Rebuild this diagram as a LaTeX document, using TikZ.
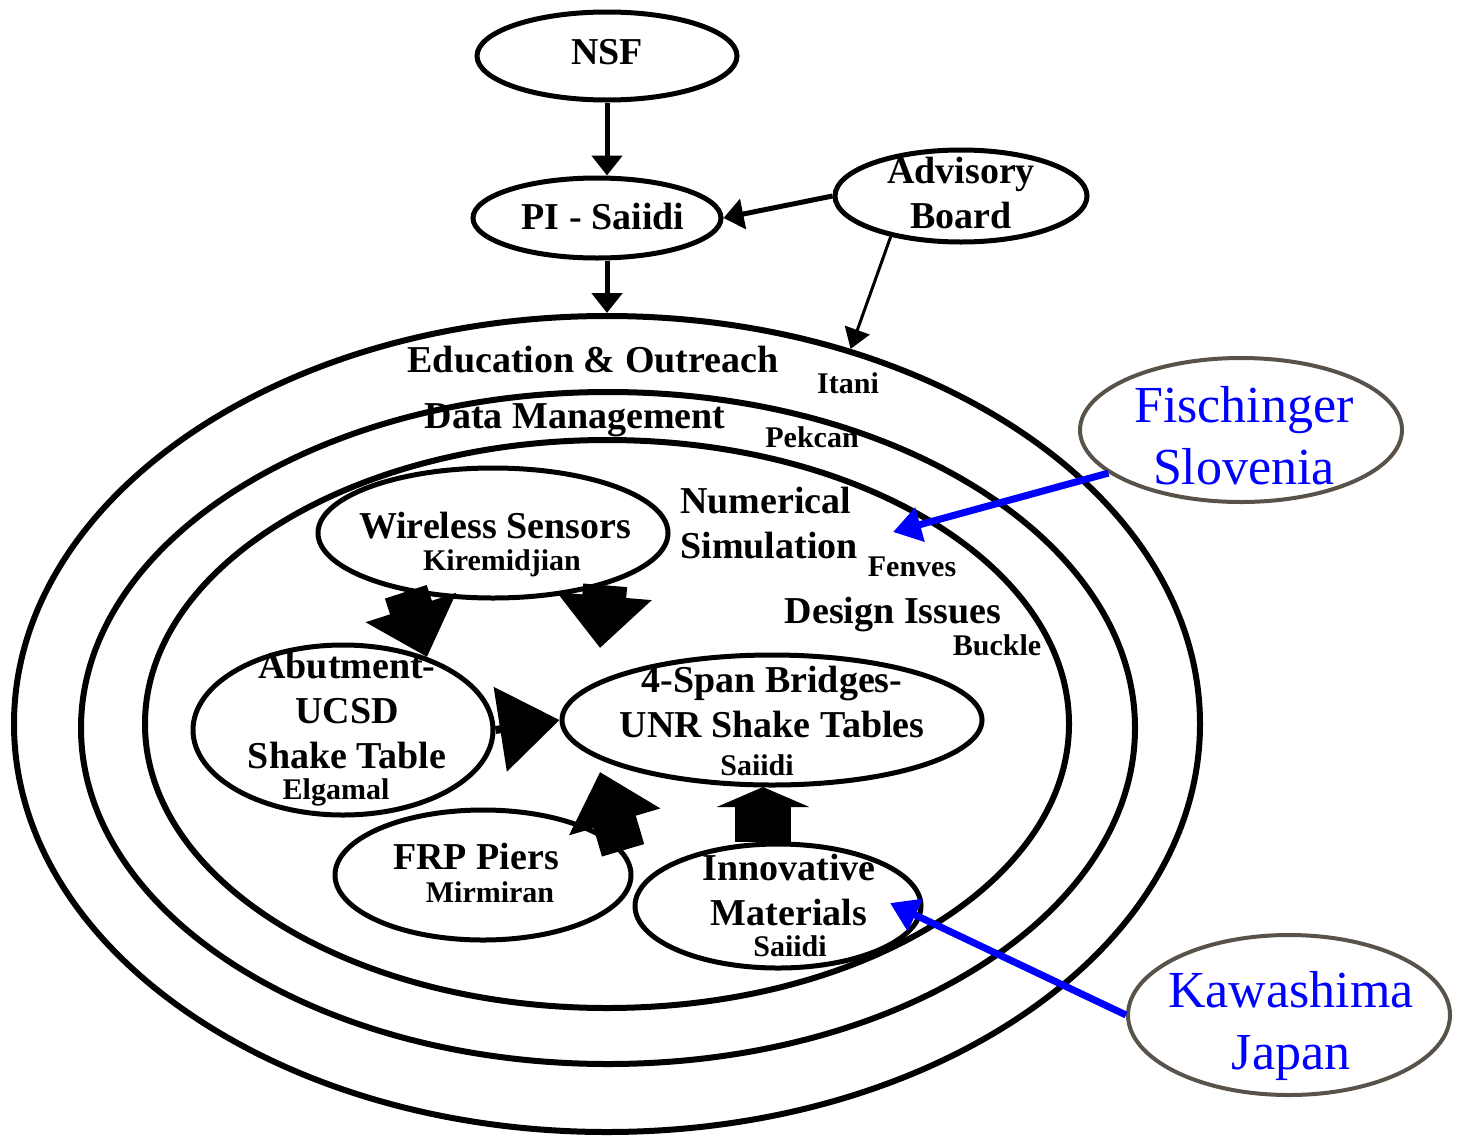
\documentclass[tikz,border=0pt]{standalone}
\usepackage{fontspec}
\setmainfont{Liberation Serif}
\usetikzlibrary{shapes.geometric,arrows.meta}
\definecolor{partnergray}{RGB}{89,82,74}

\tikzset{
  ring/.style={ellipse,draw,line width=3pt,inner sep=0pt},
  topic/.style={ellipse,draw,line width=2.5pt,inner sep=0pt},
  partner/.style={ellipse,draw=partnergray,line width=2pt,inner sep=0pt},
  lbl/.style={inner sep=0pt,align=center,font=\bfseries\fontsize{19}{22.5}\selectfont},
  who/.style={inner sep=0pt,font=\bfseries\fontsize{15}{15}\selectfont},
  bluelbl/.style={inner sep=0pt,align=center,text=blue,font=\fontsize{26}{31}\selectfont},
  thinarrow/.style={line width=2.5pt,-{Triangle[length=10pt,width=15pt]}},
  bigarrow/.style={line width=22pt,-{Triangle[length=26pt,width=46pt]}},
  stubarrow/.style={line width=28pt,-{Triangle[length=10pt,width=46pt]}},
  bluearrow/.style={draw=blue,line width=3.5pt,-{Triangle[length=14pt,width=17pt]}}
}

\begin{document}
\begin{tikzpicture}[x=0.5pt,y=0.5pt,yscale=-1,xscale=1]
\useasboundingbox (0,0) rectangle (1460,1135);

% top of the chart
\node [topic, minimum width=130pt, minimum height=44pt] (nsf) at (607,56) {};
\node [topic, minimum width=124pt, minimum height=40pt] (pi) at (597,218) {};
\node [topic, minimum width=126pt, minimum height=46pt] (adv) at (961,196) {};

% the three rings
\node [ring, minimum width=593pt, minimum height=408pt] (eo) at (607,724) {};
\node [ring, minimum width=527pt, minimum height=336pt] (dm) at (608,728) {};
\node [ring, minimum width=462pt, minimum height=284pt] (ns) at (607,724) {};

% projects
\node [topic, minimum width=175pt, minimum height=65pt] (ws) at (493,533) {};
\node [topic, minimum width=150pt, minimum height=85pt] (ab) at (343,730) {};
\node [topic, minimum width=210pt, minimum height=65pt] (br) at (772,720) {};
\node [topic, minimum width=148pt, minimum height=65pt] (frp) at (483,875) {};
\node [topic, minimum width=143pt, minimum height=62pt] (im) at (778,906) {};

% partners
\node [partner, minimum width=161pt, minimum height=72pt] (fis) at (1241,430) {};
\node [partner, minimum width=161pt, minimum height=80pt] (kaw) at (1289,1015) {};

% thin arrows
\draw [thinarrow] (nsf.south) -- (nsf.south |- pi.north);
\draw [thinarrow] (pi.south -| eo.north) -- (eo.north);
\draw [thinarrow] (adv.west) -- (pi.east);
\draw [line width=1.5pt,-{Triangle[length=10pt,width=13pt]}] (adv.-150) -- (eo.57.5);

% block arrows
\coordinate (wsbr) at (600,648);
\coordinate (frpbr) at (600,772);
\coordinate (imbr) at (763,787);
\draw [bigarrow] (ws.214) -- (ab.41);
\draw [bigarrow] (ws.-25) -- (wsbr);
\draw [line width=4pt,-{Triangle[length=30pt,width=42pt]}] (ab.east) -- (br.west);
\draw [bigarrow] (frp.10) -- (frpbr);
\draw [stubarrow] (imbr |- im.north) -- (imbr);

% labels
\node [lbl] (nsftxt) at (607,52) {NSF};
\node [lbl] (pitxt) at (603,216) {PI - Saiidi};
\node [lbl] (advtxt) at (961,193) {Advisory\\Board};
\node [lbl] (eotxt) at (593,360) {Education \& Outreach};
\node [who] (eowho) at (848,383) {Itani};
\node [lbl] (dmtxt) at (575,420) {Data Management};
\node [who] (dmwho) at (812,437) {Pekcan};
\node [lbl, align=left] (nstxt) at (769,523) {Numerical\\Simulation};
\node [who] (nswho) at (912,567) {Fenves};
\node [lbl] (ditxt) at (893,615) {Design Issues};
\node [who] (diwho) at (997,645) {Buckle};
\node [lbl] (wstxt) at (495,526) {Wireless Sensors};
\node [who] (wswho) at (502,563) {Kiremidjian};
\node [lbl] (abtxt) at (347,710) {Abutment-\\UCSD\\Shake Table};
\node [who] (abwho) at (336,792) {Elgamal};
\node [lbl] (brtxt) at (772,702) {4-Span Bridges-\\UNR Shake Tables};
\node [who] (brwho) at (757,765) {Saiidi};
\node [lbl] (frptxt) at (476,856) {FRP Piers};
\node [who] (frpwho) at (490,892) {Mirmiran};
\node [lbl] (imtxt) at (789,890) {Innovative\\Materials};
\node [who] (imwho) at (790,946) {Saiidi};

% partner labels and arrows
\node [bluelbl] (fistxt) at (1244,436) {Fischinger\\Slovenia};
\node [bluelbl] (kawtxt) at (1291,1026) {Kawashima\\Japan};
\coordinate (fisend) at (893,532);
\coordinate (kawend) at (890,903);
\draw [bluearrow] (fis.198) -- (fisend);
\draw [bluearrow] (kaw.west) -- (kawend);

\end{tikzpicture}
\end{document}
